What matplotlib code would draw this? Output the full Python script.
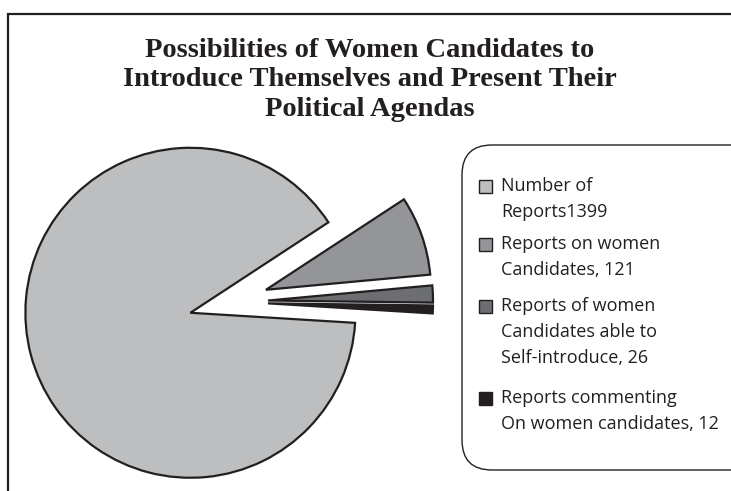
import matplotlib.pyplot as plt
from matplotlib.patches import FancyBboxPatch, Rectangle

# chart content
title_lines = ['Possibilities of Women Candidates to',
               'Introduce Themselves and Present Their',
               'Political Agendas']
labels = ['Number of\nReports1399',
          'Reports on women\nCandidates, 121',
          'Reports of women\nCandidates able to\nSelf-introduce, 26',
          'Reports commenting\nOn women candidates, 12']
reports = [1399, 121, 26, 12]
colors = ['#bcbec0', '#939598', '#6d6e71', '#231f20']
ink = '#231f20'

W, H = 731, 491
fig = plt.figure(figsize=(W / 100, H / 100), dpi=100)
ax = fig.add_axes([0, 0, 1, 1])

# pie drawn in pixel units (y up), slices pulled apart
explode = [42, 37, 37, 37]
ax.pie(reports, colors=colors, explode=explode, center=(231, H - 302), radius=165,
       startangle=-3.5, counterclock=False,
       wedgeprops=dict(edgecolor=ink, linewidth=1.6, joinstyle='miter'))
ax.set_xlim(0, W)
ax.set_ylim(0, H)
ax.axis('off')

# outer frame: top and left rules only
ax.plot([8, 8, W], [0, H - 14, H - 14], color=ink, lw=1.6,
        solid_joinstyle='miter', clip_on=False)

# title
for i, line in enumerate(title_lines):
    fig.text(370 / W, 1 - (50 + 30 * i) / H, line, ha='center', va='center',
             fontfamily='Liberation Serif', fontweight='bold', fontsize=20.5,
             color=ink)

# legend box, running off the right edge
box = FancyBboxPatch((462, H - 470), 330, 325,
                     boxstyle='round,pad=0,rounding_size=30',
                     facecolor='white', edgecolor=ink, lw=1.0)
ax.add_patch(box)

item_y = [186, 244, 306, 398]
line_gap = 26
for lab, col, y0 in zip(labels, colors, item_y):
    ax.add_patch(Rectangle((479, H - y0 - 6.5), 13, 13, facecolor=col,
                           edgecolor=ink, lw=1.0))
    for j, part in enumerate(lab.split('\n')):
        ax.text(501, H - (y0 + line_gap * j), part, ha='left', va='center',
                fontfamily='Open Sans', fontsize=13, color=ink)

fig.savefig('out.png', dpi=100)
